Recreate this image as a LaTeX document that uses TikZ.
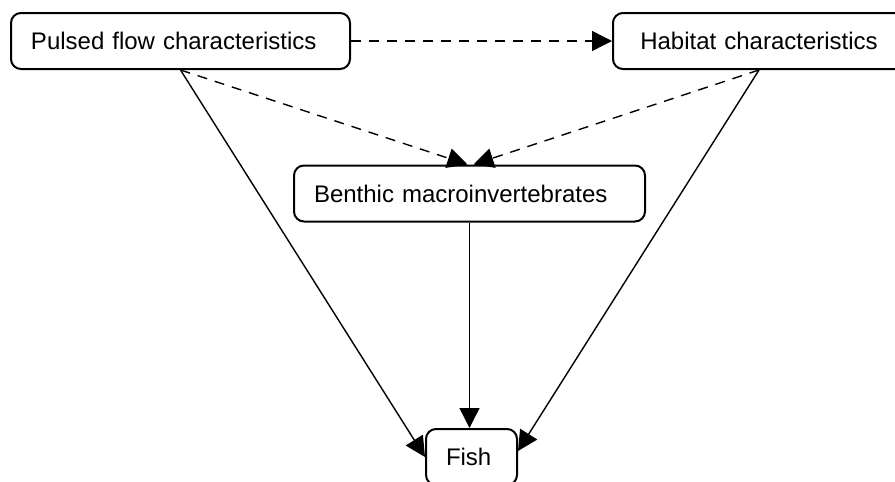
\documentclass[tikz,border=0pt]{standalone}
\usepackage{fontspec}
\setmainfont{Liberation Sans}
\usetikzlibrary{arrows.meta, positioning}

\begin{document}
\begin{tikzpicture}[x=0.5pt, y=-0.5pt,
    box/.style={draw, line width=1pt, rounded corners=5pt, align=left,
      inner xsep=10pt, minimum height=28pt, font=\fontsize{12}{14}\selectfont},
    link/.style={line width=0.7pt, -{Triangle[length=10pt, width=10pt]}},
    guess/.style={link, dash pattern=on 5pt off 4pt}]
  \useasboundingbox (0,0) rectangle (895,482);

  \node[box, text width=149.5pt] (pulsed) at (180.5,41) {Pulsed flow characteristics};
  \node[box, text width=126pt, align=center] (habitat) at (759,41) {Habitat characteristics};
  \node[box, text width=155.5pt] (benthic) at (469.5,193.5) {Benthic macroinvertebrates};
  \node[box, text width=25.5pt] (fish) at (471.5,457) {Fish};

  % dashed links
  \draw[guess] (pulsed) -- (habitat);
  \draw[guess] (pulsed.south) -- ([xshift=-1pt]benthic.north);
  \draw[guess] (habitat.south) -- ([xshift=2pt]benthic.north);

  % solid links
  \draw[link] (pulsed.south) -- (fish.west);
  \draw[link] (habitat.south) -- ([yshift=3pt]fish.east);
  \draw[link] (benthic.south) -- (benthic.south |- fish.north);
\end{tikzpicture}
\end{document}
